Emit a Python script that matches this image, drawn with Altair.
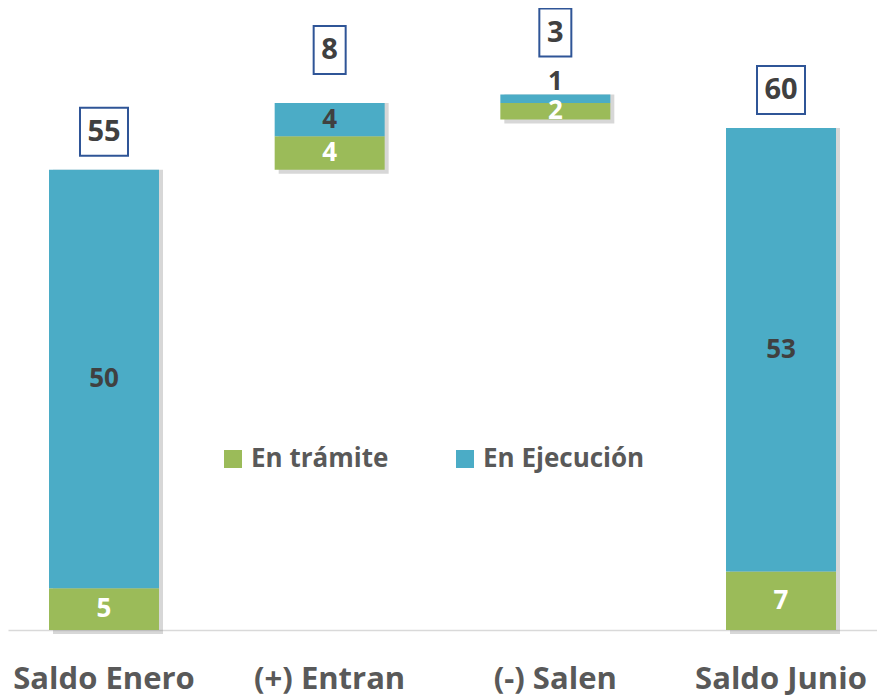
import altair as alt
import pandas as pd

categories = ["Saldo Enero", "(+) Entran", "(-) Salen", "Saldo Junio"]
tramite = [5, 4, 2, 7]
ejecucion = [50, 4, 1, 53]
base = [0, 55, 61, 0]
totals = [55, 8, 3, 60]

series = ["En trámite", "En Ejecución"]
colors = ["#9BBB59", "#4BACC6"]

PLOT_H = 622
Y_MAX = 74.34
PX = PLOT_H / Y_MAX  # pixels per unit

# gaps (px) between bar top and centre of the total box
box_gap = [38, 53, 62, 38]
BOX_HALF = 24

seg_rows = []
for c, b, t, e in zip(categories, base, tramite, ejecucion):
    seg_rows.append(dict(cat=c, serie=series[0], y=b, y2=b + t, val=t))
    seg_rows.append(dict(cat=c, serie=series[1], y=b + t, y2=b + t + e, val=e))
seg = pd.DataFrame(seg_rows)
seg["mid"] = (seg["y"] + seg["y2"]) / 2
small = (seg["y2"] - seg["y"]) < 1.5
seg.loc[small, "mid"] = seg.loc[small, "y2"] + 13 / PX
seg["tcolor"] = ["#FFFFFF" if s == series[0] else "#404040" for s in seg["serie"]]

tot = pd.DataFrame(dict(cat=categories, total=totals,
                        top=[b + t + e for b, t, e in zip(base, tramite, ejecucion)],
                        bottom=base))
tot["pos"] = tot["top"] + pd.Series(box_gap) / PX
tot["lab"] = tot["total"].astype(str)
tot["b_lo"] = tot["pos"] - BOX_HALF / PX
tot["b_hi"] = tot["pos"] + BOX_HALF / PX
tot["digits"] = tot["lab"].str.len()

xenc = alt.X("cat:N", sort=categories, title=None,
             scale=alt.Scale(paddingInner=0.5126, paddingOuter=0.1817),
             axis=alt.Axis(labelFontSize=31, labelFont="Open Sans", labelFontWeight="bold",
                           labelColor="#595959", labelPadding=34, ticks=False,
                           labelLimit=400,
                           domainColor="#D9D9D9", domainWidth=1.5, labelAngle=0))
yscale = alt.Scale(domain=[0, Y_MAX], nice=False, zero=True)

shadow = alt.Chart(tot).mark_bar(color="#8c8c8c", opacity=0.35, xOffset=4, yOffset=4).encode(
    x=xenc,
    y=alt.Y("bottom:Q", scale=yscale, axis=None),
    y2="top:Q",
)

bars = alt.Chart(seg).mark_bar().encode(
    x=xenc,
    y=alt.Y("y:Q", scale=yscale, axis=None),
    y2="y2:Q",
    color=alt.Color("serie:N", scale=alt.Scale(domain=series, range=colors),
                    legend=alt.Legend(orient="none", legendX=212, legendY=438,
                                      direction="horizontal", title=None,
                                      symbolType="square", symbolSize=324,
                                      symbolStrokeWidth=0, labelFontSize=26,
                                      labelFont="Open Sans", labelFontWeight="bold",
                                      labelColor="#595959", labelOffset=5,
                                      columnPadding=63, labelLimit=300)),
)

seg_text = alt.Chart(seg).mark_text(fontSize=26, font="Open Sans", fontWeight="bold",
                                    baseline="middle").encode(
    x=xenc,
    y=alt.Y("mid:Q", scale=yscale, axis=None),
    text="val:Q",
    color=alt.Color("tcolor:N", scale=None),
)


def box_layer(ndig, w):
    return alt.Chart(tot).transform_filter(alt.datum.digits == ndig).mark_bar(
        width=w, fill="white", fillOpacity=0, stroke="#2F5597", strokeWidth=2
    ).encode(
        x=xenc,
        y=alt.Y("b_lo:Q", scale=yscale, axis=None),
        y2="b_hi:Q",
    )


boxes2 = box_layer(2, 48)
boxes1 = box_layer(1, 32)

tot_text = alt.Chart(tot).mark_text(fontSize=29, font="Open Sans", fontWeight="bold",
                                    baseline="middle", color="#404040").encode(
    x=xenc,
    y=alt.Y("pos:Q", scale=yscale, axis=None),
    text="lab:N",
)

chart = alt.layer(shadow, bars, seg_text, boxes2, boxes1, tot_text).properties(
    width=869, height=PLOT_H,
    padding={"top": 0, "bottom": 66, "left": 0, "right": 0},
    autosize=alt.AutoSizeParams(type="none"),
).configure(background="white").configure_view(stroke=None)

chart.save("out.html", embed_options={"renderer": "svg", "actions": False})
